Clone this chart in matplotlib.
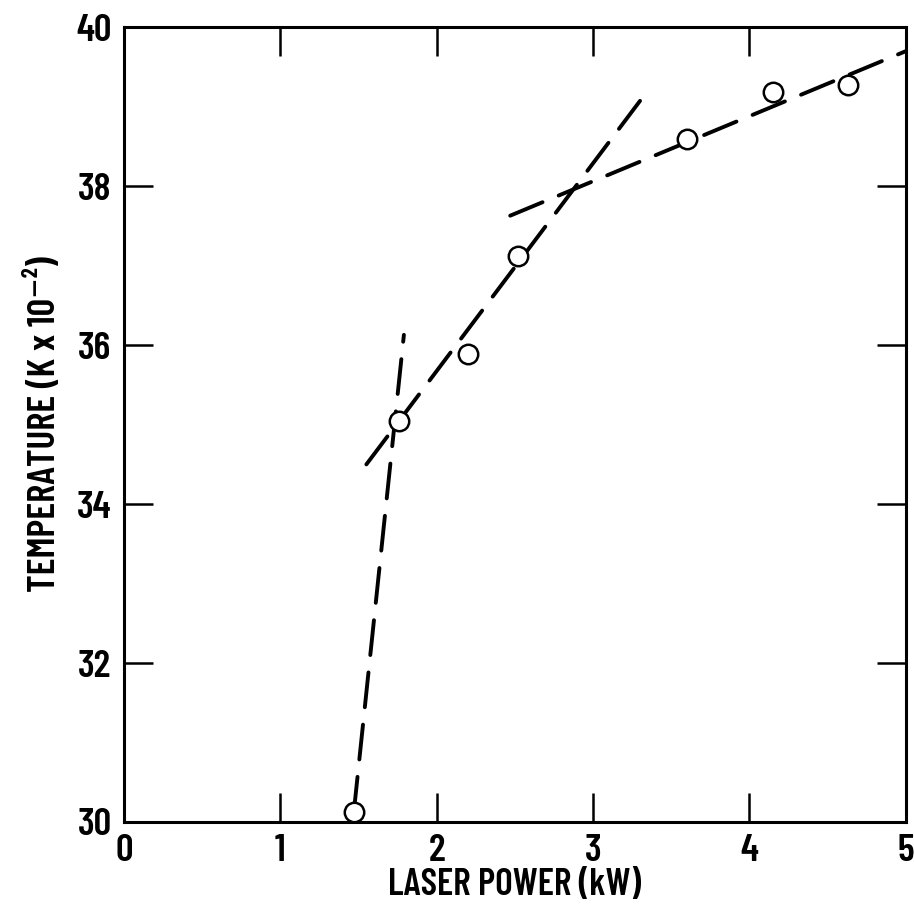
import matplotlib
matplotlib.use("Agg")
import matplotlib.pyplot as plt

plt.rcParams['font.family'] = ['Barlow Condensed', 'DejaVu Sans']
plt.rcParams['font.weight'] = 600
plt.rcParams['axes.labelweight'] = 600

# measured points
power = [1.47, 1.76, 2.20, 2.52, 3.60, 4.15, 4.63]
temp = [30.13, 35.04, 35.89, 37.12, 38.60, 39.19, 39.28]

# dashed trend lines (end points)
line1_x, line1_y = [1.47, 1.79], [30.13, 36.13]
line2_x, line2_y = [1.55, 3.31], [34.50, 39.10]
line3_x, line3_y = [2.47, 5.00], [37.63, 39.70]

xticks = [0, 1, 2, 3, 4, 5]
yticks = [30, 32, 34, 36, 38, 40]

fig = plt.figure(figsize=(9.14, 9.11), dpi=100)
ax = fig.add_axes([0.1357, 0.0977, 0.8553, 0.8723])

dash = (9, 4.5)
for lx, ly in [(line1_x, line1_y), (line2_x, line2_y), (line3_x, line3_y)]:
    ax.plot(lx, ly, color='black', lw=2.8, ls=(0, dash), dash_capstyle='round', zorder=2)

ax.plot(power, temp, 'o', ms=14, mfc='white', mec='black', mew=1.8, zorder=3)

ax.set_xlim(0, 5)
ax.set_ylim(30, 40)
ax.set_xticks(xticks)
ax.set_yticks(yticks)
ax.tick_params(direction='in', length=21, width=1.8, top=True, right=True,
               labelsize=28, pad=9)
for s in ax.spines.values():
    s.set_linewidth(2.2)

ax.set_xlabel("LASER POWER (kW)", fontsize=27, labelpad=0)
ax.set_ylabel("TEMPERATURE (K x 10\u207b\u00b2)", fontsize=28, labelpad=10)

fig.savefig("out.png", dpi=100)
